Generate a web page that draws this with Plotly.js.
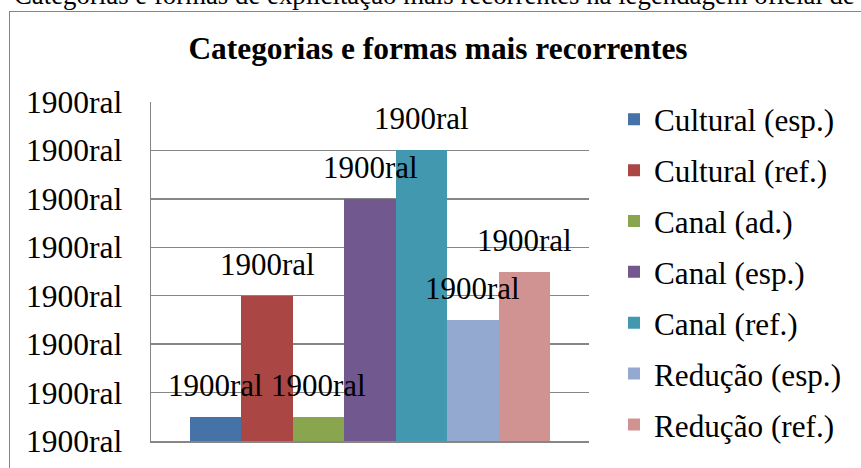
<!DOCTYPE html>
<html>
<head>
<meta charset="utf-8">
<script src="https://cdn.plot.ly/plotly-3.0.1.min.js"></script>
<style>
  html, body { margin: 0; padding: 0; background: #ffffff; overflow: hidden; }
  #wrap { position: relative; width: 861px; height: 468px; overflow: hidden; background: #fff; }
  #frame { position: absolute; left: 9px; top: 11px; width: 900px; height: 500px; border: 1.5px solid #868686; box-sizing: border-box; }
  #caption { position: absolute; left: 14px; top: -20px; white-space: nowrap; font-family: "Liberation Serif", "Times New Roman", serif; font-size: 26.8px; color: #000; }
  #chart { position: absolute; left: 0; top: 0; width: 861px; height: 468px; }
</style>
</head>
<body>
<div id="wrap">
  <div id="frame"></div>
  <div id="caption">Categorias e formas de explicitação mais recorrentes na legendagem oficial de</div>
  <div id="chart"></div>
</div>
<script>
// ---- data ----
const seriesNames = ["Cultural (esp.)", "Cultural (ref.)", "Canal (ad.)", "Canal (esp.)", "Canal (ref.)", "Redução (esp.)", "Redução (ref.)"];
const seriesValues = [1, 6, 1, 10, 12, 5, 7];
const seriesColors = ["#4572A7", "#AA4643", "#89A54E", "#71588F", "#4198AF", "#93A9CF", "#D19392"];
const tickValues = [0, 2, 4, 6, 8, 10, 12, 14];
const tickLabels = ["1900ral", "1900ral", "1900ral", "1900ral", "1900ral", "1900ral", "1900ral", "1900ral"];
const dataLabel = "1900ral";
const chartTitle = "Categorias e formas mais recorrentes";

const serif = "Liberation Serif";

const traces = seriesNames.map((name, i) => ({
  type: "bar",
  name: name,
  x: [name],
  y: [seriesValues[i]],
  marker: { color: seriesColors[i], line: { width: 0 } },
  legendgroup: "g" + i,
  hoverinfo: "skip"
}));

const annotations = seriesNames.map((name, i) => ({
  x: name,
  y: seriesValues[i],
  xref: "x",
  yref: "y",
  text: dataLabel,
  showarrow: false,
  yanchor: "bottom",
  yshift: 12,
  font: { family: serif, size: 31, color: "#000" }
}));

const layout = {
  width: 861,
  height: 468,
  font: { family: serif, color: "#000" },
  paper_bgcolor: "rgba(0,0,0,0)",
  plot_bgcolor: "rgba(0,0,0,0)",
  margin: { l: 151, r: 272, t: 102, b: 27, pad: 0, autoexpand: false },
  barmode: "relative",
  bargap: 0,
  showlegend: true,
  title: {
    text: "<b>" + chartTitle + "</b>",
    font: { family: serif, size: 31.4, color: "#000" },
    xref: "container",
    yref: "container",
    x: 438 / 861,
    xanchor: "center",
    y: 1 - 48 / 468,
    yanchor: "middle"
  },
  xaxis: {
    type: "category",
    range: [-1.258, 7.258],
    showticklabels: false,
    showgrid: false,
    zeroline: false,
    showline: true,
    linecolor: "#868686",
    linewidth: 1.5,
    ticks: "",
    fixedrange: true
  },
  yaxis: {
    range: [0, 14],
    tickvals: tickValues,
    ticktext: tickLabels,
    tickfont: { family: serif, size: 31.5, color: "#000" },
    showgrid: true,
    gridcolor: "#868686",
    gridwidth: 1.5,
    zeroline: false,
    showline: true,
    linecolor: "#868686",
    linewidth: 1.5,
    ticks: "",
    ticklabelstandoff: 21,
    fixedrange: true
  },
  legend: {
    x: (614 - 151) / 438,
    xanchor: "left",
    y: 1 + 9.5 / 339,
    yanchor: "top",
    maxheight: 440,
    font: { family: serif, size: 31.2, color: "#000" },
    traceorder: "grouped",
    tracegroupgap: 7.3,
    bgcolor: "rgba(0,0,0,0)",
    borderwidth: 0
  },
  annotations: annotations
};

Plotly.newPlot("chart", traces, layout, { displayModeBar: false, staticPlot: true });
</script>
</body>
</html>
